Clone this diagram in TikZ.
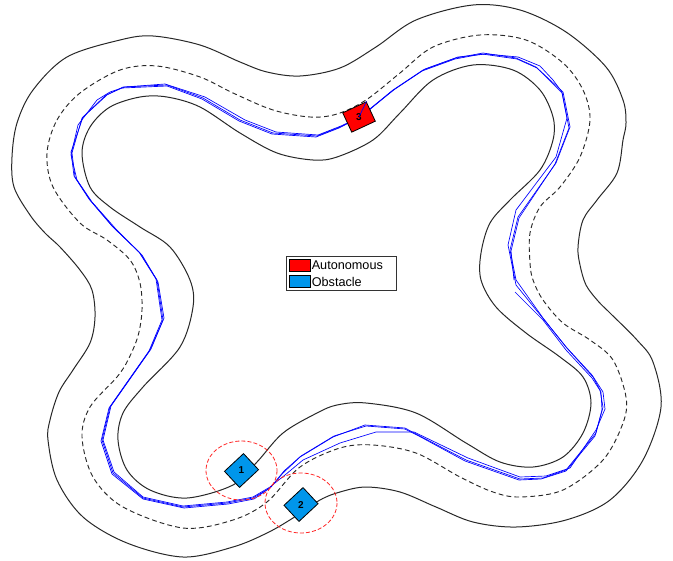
\documentclass[tikz,border=0pt]{standalone}
\usepackage{fontspec}
\setmainfont{Liberation Sans}
\definecolor{obstblue}{RGB}{0,150,235}
\definecolor{bnd}{RGB}{40,40,40}
\begin{document}
\begin{tikzpicture}[x=0.75pt,y=-0.75pt,
  bound/.style={draw=bnd, line width=0.75pt},
  midline/.style={draw=bnd, line width=0.7pt, dash pattern=on 3.6pt off 2.4pt},
  traj/.style={draw=blue, line width=0.5pt, line join=round},
  obst/.style={draw=black, fill=obstblue, line width=0.6pt, minimum width=19.5pt, minimum height=16.5pt, inner sep=0pt},
  carbox/.style={draw=black, fill=red, line width=0.6pt, minimum width=19.5pt, minimum height=16pt, inner sep=0pt},
  vlabel/.style={inner sep=0pt, font=\fontsize{7.5}{7.5}\selectfont\bfseries},
  hazard/.style={draw=red!85, line width=0.6pt, dash pattern=on 3pt off 1.6pt},
  legendbox/.style={draw=black!80, line width=0.6pt, minimum width=82.5pt, minimum height=25.5pt, inner sep=0pt, fill=white},
  swatch/.style={draw=black, line width=0.5pt, minimum width=15.75pt, minimum height=9pt, inner sep=0pt},
  legtext/.style={anchor=west, inner sep=0pt, font=\fontsize{9.5}{10}\selectfont}
]
\useasboundingbox (0,0) rectangle (673,560);
\fill[white] (0,0) rectangle (673,560);

% outer boundary
\draw[bound] plot[smooth cycle, tension=0.55] coordinates {
(12,157) (17,123) (33,90) (67,57) (120,40) (153,36) (200,45) (240,62) (267,72) (300,76)
(340,68) (376,47) (416,20) (473,5) (520,10) (566,32) (606,67) (623,100) (626,123)
(623,140) (617,173) (597,200) (583,220) (578,247) (580,265) (586,285) (598,301)
(610,313) (637,340) (653,362) (661,407) (643,460) (610,500) (566,520) (516,527)
(473,522) (436,507) (400,492) (366,487) (340,492) (320,500) (293,518) (267,533)
(233,547) (183,557) (127,543) (83,517) (57,480) (48,440) (50,420) (59,392) (73,370)
(90,343) (95,317) (92,290) (80,270) (60,247) (45,233) (30,215) (14,187)};

% centre line
\draw[midline] plot[smooth cycle, tension=0.55] coordinates {
(47,153) (57,120) (80,93) (120,70) (157,66) (200,77) (233,93) (273,110) (310,117)
(337,114) (366,100) (400,73) (433,47) (480,35) (526,40) (563,63) (583,90) (590,120)
(580,157) (560,187) (540,207) (530,233) (530,263) (533,280) (543,300) (563,323)
(590,340) (613,360) (626,397) (623,423) (603,460) (563,490) (520,497) (493,492)
(460,477) (416,453) (373,445) (340,448) (300,467) (267,502) (233,520) (183,528)
(123,507) (93,477) (82,437) (90,407) (117,377) (128,360) (138,336) (142,310)
(140,283) (130,260) (107,240) (80,223) (53,187)};

% inner boundary
\draw[bound] plot[smooth cycle, tension=0.55] coordinates {
(82,153) (90,127) (110,107) (140,97) (167,97) (200,107) (240,133) (277,153)
(313,160) (337,157) (373,140) (400,113) (433,80) (473,65) (513,70) (540,90)
(553,117) (553,140) (540,170) (510,200) (490,223) (481,253) (481,280) (496,307)
(526,333) (560,357) (583,377) (591,403) (583,433) (563,457) (533,467) (500,462)
(466,443) (416,413) (366,403) (337,405) (317,413) (283,433) (257,462) (233,485)
(187,498) (150,490) (127,470) (118,440) (123,413) (143,387) (180,347) (193,307)
(190,280) (170,247) (140,227) (110,207) (90,187)};

% trajectories
\draw[traj] plot coordinates {
(360,117) (393,90) (423,70) (456,58) (483,53) (516,58) (536,67) (563,92) (570,127)
(556,163) (518,217) (510,250) (516,280) (543,318) (566,347) (593,377) (600,390)
(603,407) (596,433) (566,470) (543,478) (520,479) (466,460) (416,434) (405,428)
(365,425) (333,437) (300,457) (283,473) (270,488) (253,498) (227,503) (183,507)
(143,498) (113,473) (102,440) (110,407) (150,350) (163,320) (157,280) (140,253)
(113,227) (90,200) (75,177) (72,153) (82,118) (107,95) (123,87) (167,85) (203,98)
(240,120) (273,133) (317,136) (340,127) (360,117)};
\draw[traj] plot coordinates {
(360,117) (395,89) (425,69) (458,57) (486,54) (518,57) (540,66) (553,80) (562,92)
(567,118) (556,157) (516,210) (508,245) (516,285) (541,316) (567,348) (592,375)
(603,392) (605,409) (596,430) (570,468) (546,476) (520,477) (468,458) (414,432)
(376,432) (340,443) (303,460) (285,475) (270,487) (253,497) (227,502) (183,506)
(143,497) (114,472) (103,440) (111,406) (151,349) (164,318) (158,282) (142,255)
(115,228) (92,202) (77,180) (71,155) (78,125) (97,100) (110,92) (125,87) (165,84)
(205,97) (245,120) (276,132) (318,135) (341,126) (360,117)};
\draw[traj] plot coordinates {
(515,292) (543,320) (566,350) (592,378) (601,392) (602,410) (595,436) (566,471)
(541,479) (519,480) (465,461) (417,435) (405,429) (366,426) (334,436) (301,456)
(284,471) (271,487) (254,499) (228,504) (184,508) (143,499) (112,474) (101,441)
(109,408) (149,351) (162,320) (156,279) (139,252) (112,226) (89,199) (74,176)
(71,152) (83,117) (106,95) (122,88) (167,86) (202,99) (239,121) (272,134) (316,137)
(339,128) (362,116) (392,91) (422,71) (455,59) (482,54) (517,59) (537,68) (562,93)
(569,128) (555,164) (519,218) (511,251) (514,280)};

% vehicles
\node[obst, rotate=43] (o1) at (241.5,470.5) {};
\node[vlabel] (o1l) at (o1.center) {1};
\node[obst, rotate=43] (o2) at (301,504.5) {};
\node[vlabel] (o2l) at (o2.center) {2};
\node[carbox, rotate=25] (car) at (359,117) {};
\node[vlabel] (carl) at (car.center) {3};
\draw[traj] (car.center) -- (car.north east);

% safety zones
\draw[hazard] (o1.center) ellipse [x radius=35.5, y radius=29.5];
\draw[hazard] (301,503) ellipse [x radius=36, y radius=30];

% legend
\node[legendbox] (leg) at (341,273.5) {};
\node[swatch, fill=red] (sw1) at (299.5,265) {};
\node[swatch, fill=obstblue] (sw2) at (299.5,281) {};
\node[legtext] (lt1) at (311.5,265.5) {Autonomous};
\node[legtext] (lt2) at (311.5,281.5) {Obstacle};
\end{tikzpicture}
\end{document}
